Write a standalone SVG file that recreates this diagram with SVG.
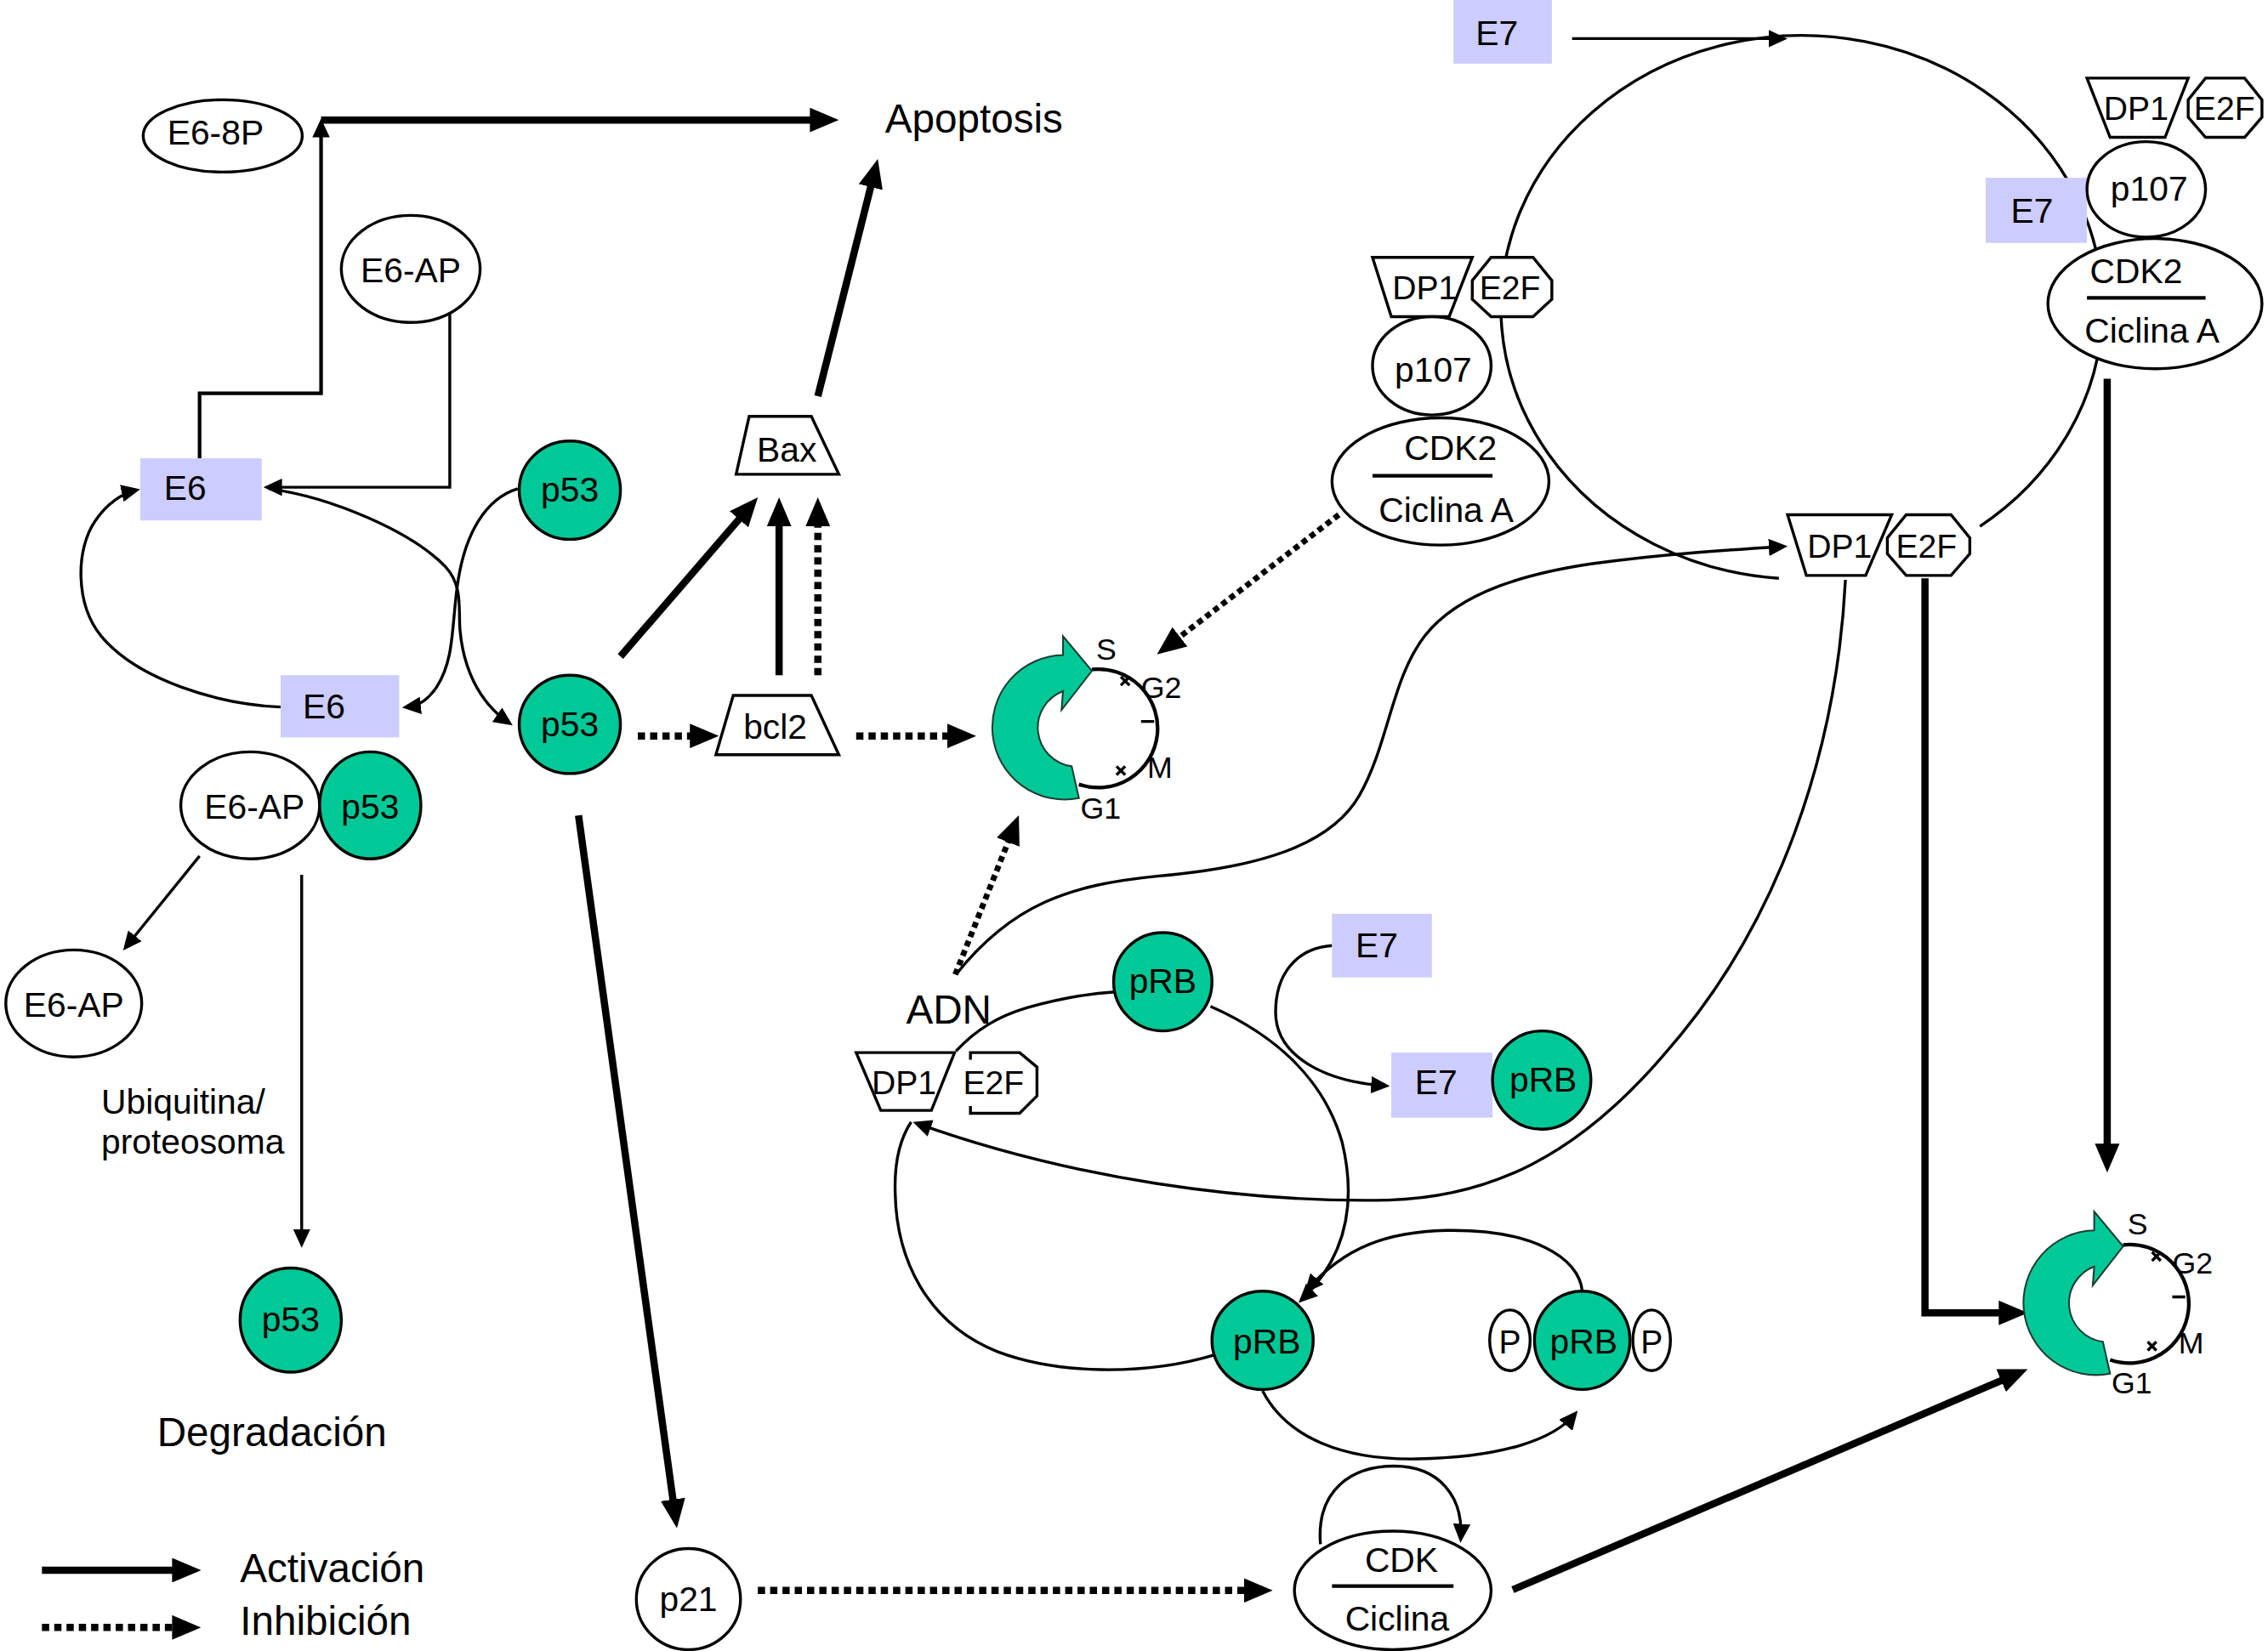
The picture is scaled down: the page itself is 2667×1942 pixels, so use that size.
<svg xmlns="http://www.w3.org/2000/svg" width="2667" height="1942" viewBox="0 0 2667 1942">
<defs>
<style>
.n{fill:#fff;stroke:#000;stroke-width:2}
.g{fill:#00C896;stroke:#000;stroke-width:2}
.b{fill:#CCCCFF}
.t{font-family:"Liberation Sans",Arial,sans-serif;font-size:24px;text-anchor:middle;fill:#000}
.s{font-size:23px}
.c{font-family:"Liberation Sans",Arial,sans-serif;font-size:21px;text-anchor:middle;fill:#000}
.big{font-family:"Liberation Sans",Arial,sans-serif;font-size:28px;fill:#000}
.lab{font-family:"Liberation Sans",Arial,sans-serif;font-size:24px;fill:#000}
.thin{fill:none;stroke:#000;stroke-width:2}
.thick{fill:none;stroke:#000;stroke-width:5}
.dot{fill:none;stroke:#000;stroke-width:5;stroke-dasharray:5 3.5}
.dot2{fill:none;stroke:#000;stroke-width:4;stroke-dasharray:4 3}
.gc{fill:#00C896;stroke:#1d3d33;stroke-width:1.2}
.cyc{fill:none;stroke:#000;stroke-width:2.5}
.dl{stroke:#000;stroke-width:2.5}
</style>
<marker id="as" markerUnits="userSpaceOnUse" viewBox="0 0 13 12" markerWidth="13" markerHeight="12" refX="10" refY="6" orient="auto"><path d="M0,0 L13,6 L0,12 Z"/></marker>
<marker id="al" markerUnits="userSpaceOnUse" viewBox="0 0 20 17" markerWidth="20" markerHeight="17" refX="8" refY="8.5" orient="auto"><path d="M0,0 L20,8.5 L0,17 Z"/></marker>
</defs>
<rect width="2667" height="1942" fill="#fff"/>
<g transform="scale(1.7007)">

<g id="connectors">
<path class="thick" d="M222,83 H568" marker-end="url(#al)"/>
<path class="thin" style="stroke-width:2.5" d="M138,317 V272 H222 V85" marker-end="url(#as)"/>
<path class="thick" d="M565.5,274 L604,121.6" marker-end="url(#al)"/>
<path class="thick" d="M429,454 L516.2,353.1" marker-end="url(#al)"/>
<path class="thick" d="M538.7,467 V356" marker-end="url(#al)"/>
<path class="dot" d="M565.5,467 V356" marker-end="url(#al)"/>
<path class="dot" d="M441,509 H485" marker-end="url(#al)"/>
<path class="dot" d="M592,509 H663" marker-end="url(#al)"/>
<path class="thick" d="M400,564 L466.4,1045" marker-end="url(#al)"/>
<path class="dot" d="M524,1100 H868" marker-end="url(#al)"/>
<path class="thick" d="M1046,1099.5 L1391,951.7" marker-end="url(#al)"/>
<path class="thick" d="M1331,400 V908 H1390" marker-end="url(#al)"/>
<path class="thick" d="M1457,262 V799" marker-end="url(#al)"/>
<path class="dot2" d="M925.7,356 L809.5,445.3" marker-end="url(#al)"/>
<path class="dot2" d="M660.5,674 L700,575" marker-end="url(#al)"/>
<path class="thick" d="M29,1086 H127" marker-end="url(#al)"/>
<path class="dot" d="M29,1125.6 H127" marker-end="url(#al)"/>

<path class="thin" d="M311,212 V337 H185" marker-end="url(#as)"/>
<path class="thin" d="M186,338 C230,344 285,368 308,392 C320,405 317,420 318,435 C320,460 330,485 352,500" marker-end="url(#as)"/>
<path class="thin" d="M358,338 C335,345 322,370 317,400 C312,430 315,455 302,475 C296,484 290,488 281,489" marker-end="url(#as)"/>
<path class="thin" d="M194,489 C150,487 95,470 70,440 C52,418 52,380 66,360 C74,348 85,341 94,339" marker-end="url(#as)"/>
<path class="thin" d="M138,592 L87,655" marker-end="url(#as)"/>
<path class="thin" d="M208.6,605 V860" marker-end="url(#as)"/>
<path class="thin" d="M1087,26.7 H1233" marker-end="url(#as)"/>
<path class="thin" d="M1230,400 A208,188 0 1 1 1369,364"/>
<path class="thin" d="M661,674 C700,625 740,612 800,606 C870,600 920,585 940,550 C960,515 962,470 985,440 C1010,408 1060,396 1100,390 C1150,383 1200,380 1233,378" marker-end="url(#as)"/>
<path class="thin" d="M1276,401 C1270,520 1230,640 1150,730 C1090,800 1030,828 960,830 C860,832 740,815 634,777" marker-end="url(#as)"/>
<path class="thin" d="M840,937 C790,952 730,950 690,935 C640,915 620,870 619,826 C618,800 624,785 630,776"/>
<path class="thin" d="M661,727 C675,712 690,703 710,697 C735,690 755,687 771,686"/>
<path class="thin" d="M837,696 C880,715 915,745 928,790 C940,840 925,875 900,899" marker-end="url(#as)"/>
<path class="thin" d="M1094,893 C1092,870 1060,850 1000,851 C960,852 930,862 904,892" marker-end="url(#as)"/>
<path class="thin" d="M873,962 C890,995 930,1010 980,1009 C1040,1008 1075,995 1089,978" marker-end="url(#as)"/>
<path class="thin" d="M921,654 C895,656 882,675 882,700 C882,730 915,748 958,751" marker-end="url(#as)"/>
<path class="thin" d="M913,1068 C910,1030 935,1014 964,1014 C995,1014 1012,1035 1010,1064" marker-end="url(#as)"/>
</g>

<g id="e6-8p"><ellipse class="n" cx="154" cy="94" rx="55" ry="25"/><text class="t" x="149" y="100">E6-8P</text></g>
<g id="e6ap-top"><ellipse class="n" cx="284" cy="186" rx="48" ry="37"/><text class="t" x="284" y="195">E6-AP</text></g>
<g id="e6-a"><rect class="b" x="97" y="317" width="84" height="43"/><text class="t" x="128" y="346">E6</text></g>
<g id="e6-b"><rect class="b" x="194" y="467" width="82" height="43"/><text class="t" x="224" y="497">E6</text></g>
<g id="p53-top"><ellipse class="g" cx="394" cy="339" rx="35" ry="34"/><text class="t" x="394" y="347">p53</text></g>
<g id="p53-mid"><ellipse class="g" cx="394" cy="501" rx="35" ry="34"/><text class="t" x="394" y="509">p53</text></g>
<g id="e6ap-p53"><ellipse class="n" cx="173" cy="557" rx="48" ry="37"/><text class="t" x="176" y="566">E6-AP</text><ellipse class="g" cx="256" cy="557" rx="35" ry="37"/><text class="t" x="256" y="566">p53</text></g>
<g id="e6ap-low"><ellipse class="n" cx="51" cy="694" rx="47" ry="37"/><text class="t" x="51" y="703">E6-AP</text></g>
<g id="p53-deg"><ellipse class="g" cx="201" cy="913" rx="35" ry="36"/><text class="t" x="201" y="921">p53</text></g>
<g id="bax"><polygon class="n" points="518,288 561,288 580,328 509,328"/><text class="t" x="544" y="319">Bax</text></g>
<g id="bcl2"><polygon class="n" points="507,481 561,481 580,522 495,522"/><text class="t" x="536" y="511">bcl2</text></g>
<g id="p21"><ellipse class="n" cx="476" cy="1106" rx="36" ry="35"/><text class="t" x="476" y="1114">p21</text></g>

<g id="e7-top"><rect class="b" x="1005" y="0" width="68" height="44"/><text class="t" x="1035" y="31">E7</text></g>

<g id="complex-ul">
<polygon class="n" points="949,178 1018,178 1002,219 962,219"/><text class="t s" x="985" y="207">DP1</text>
<polygon class="n" points="1031,178 1060,178 1073,194 1073,207 1060,219 1031,219 1018,207 1018,194"/><text class="t s" x="1044" y="207">E2F</text>
<ellipse class="n" cx="990" cy="253" rx="41" ry="34"/><text class="t" x="991" y="264">p107</text>
<ellipse class="n" cx="996" cy="333" rx="75" ry="44"/><text class="t" x="1003" y="318">CDK2</text><line class="dl" x1="949" y1="329" x2="1032" y2="329"/><text class="t" x="1000" y="361">Ciclina A</text>
</g>

<g id="complex-ur">
<polygon class="n" points="1443,54 1513,54 1497,95 1459,95"/><text class="t s" x="1477" y="83">DP1</text>
<polygon class="n" points="1525,54 1552,54 1564,69 1564,81 1552,95 1525,95 1513,81 1513,69"/><text class="t s" x="1538" y="83">E2F</text>
<rect class="b" x="1373" y="123" width="70" height="45"/><text class="t" x="1405" y="154">E7</text>
<ellipse class="n" cx="1484" cy="131" rx="41" ry="33"/><text class="t" x="1486" y="139">p107</text>
<ellipse class="n" cx="1490" cy="210" rx="74" ry="45"/><text class="t" x="1477" y="196">CDK2</text><line class="dl" x1="1443" y1="206" x2="1525" y2="206"/><text class="t" x="1488" y="237">Ciclina A</text>
</g>

<g id="dp1-e2f-free">
<polygon class="n" points="1236,356 1308,356 1290,398 1249,398"/><text class="t s" x="1272" y="386">DP1</text>
<polygon class="n" points="1318,356 1349,356 1362,372 1362,383 1349,398 1318,398 1305,383 1305,372"/><text class="t s" x="1332" y="386">E2F</text>
</g>

<g id="adn">
<text class="big" x="656" y="708" text-anchor="middle">ADN</text>
<polygon class="n" points="592,728 660,728 644,768 609,768"/><text class="t s" x="625" y="757">DP1</text>
<path class="n" style="fill:#fff" d="M671,733 V728 H705 L717,738 V758 L705,770 H671 V765"/><text class="t s" x="687" y="757">E2F</text>
</g>

<g id="prb-top"><ellipse class="g" cx="804" cy="679" rx="34" ry="34"/><text class="t" x="804" y="687">pRB</text></g>
<g id="e7-mid"><rect class="b" x="921" y="632" width="69" height="44"/><text class="t" x="952" y="662">E7</text></g>
<g id="e7-prb"><rect class="b" x="962" y="728" width="70" height="45"/><text class="t" x="993" y="757">E7</text><ellipse class="g" cx="1066" cy="747" rx="34" ry="34"/><text class="t" x="1067" y="755">pRB</text></g>
<g id="prb-low"><ellipse class="g" cx="873" cy="927" rx="35" ry="34"/><text class="t" x="876" y="936">pRB</text></g>
<g id="p-prb-p">
<ellipse class="n" cx="1044" cy="927" rx="14" ry="21"/><text class="t s" x="1044" y="936">P</text>
<ellipse class="n" cx="1142" cy="927" rx="13" ry="21"/><text class="t s" x="1142" y="936">P</text>
<ellipse class="g" cx="1094" cy="927" rx="33" ry="34"/><text class="t" x="1095" y="936">pRB</text>
</g>
<g id="cdk"><ellipse class="n" cx="963" cy="1100" rx="68" ry="41"/><text class="t" x="969" y="1087">CDK</text><line class="dl" x1="921" y1="1097" x2="1005" y2="1097"/><text class="t" x="966" y="1128">Ciclina</text></g>

<g id="cycle1">
<path class="cyc" d="M755,463 A41,41 0 1 1 746,542.5"/>
<path class="cyc" style="stroke-width:2" d="M775,468 L781,474 M781,468 L775,474 M789,499 H798 M772,530 L778,536 M778,530 L772,536"/>
<path class="gc" d="M735,453 A50,50 0 1 0 746,552 L741,530 A27,27 0 0 1 735,478 L734,491 L755,464 L735,440 Z"/>
<text class="c" x="765" y="456">S</text><text class="c" x="803" y="483">G2</text><text class="c" x="802" y="538">M</text><text class="c" x="761" y="566">G1</text>
</g>
<g id="cycle2" transform="translate(713,398)">
<path class="cyc" d="M755,463 A41,41 0 1 1 746,542.5"/>
<path class="cyc" style="stroke-width:2" d="M775,468 L781,474 M781,468 L775,474 M789,499 H798 M772,530 L778,536 M778,530 L772,536"/>
<path class="gc" d="M735,453 A50,50 0 1 0 746,552 L741,530 A27,27 0 0 1 735,478 L734,491 L755,464 L735,440 Z"/>
<text class="c" x="765" y="456">S</text><text class="c" x="803" y="483">G2</text><text class="c" x="802" y="538">M</text><text class="c" x="761" y="566">G1</text>
</g>

<g id="labels">
<text class="big" x="612" y="92">Apoptosis</text>
<text class="lab" x="70" y="770">Ubiquitina/</text>
<text class="lab" x="70" y="798">proteosoma</text>
<text class="big" x="188" y="1000" text-anchor="middle">Degradación</text>
<text class="big" x="166" y="1094">Activación</text>
<text class="big" x="166" y="1131">Inhibición</text>
</g>
</g>
</svg>
